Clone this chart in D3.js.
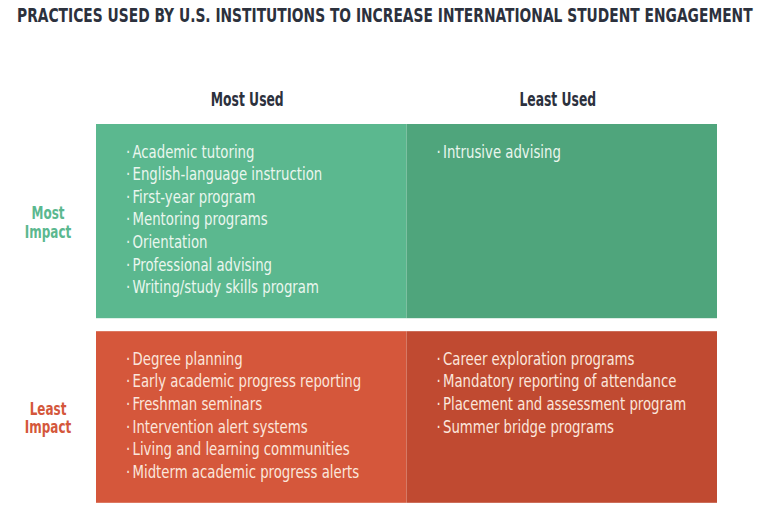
<!DOCTYPE html>
<head>
    <script src="https://d3js.org/d3.v7.min.js"></script>
    <style>
        body { margin: 0; background: #fff; }
        text { font-family: "Liberation Sans Narrow", "DejaVu Sans Condensed", "Roboto", sans-serif; }
    </style>
</head>
<body>
    <script id="chart">
        // data
        const title = "PRACTICES USED BY U.S. INSTITUTIONS TO INCREASE INTERNATIONAL STUDENT ENGAGEMENT";
        const columns = ["Most Used", "Least Used"];
        const rows = ["Most Impact", "Least Impact"];
        const mostImpactMostUsed = ["Academic tutoring", "English-language instruction", "First-year program",
            "Mentoring programs", "Orientation", "Professional advising", "Writing/study skills program"];
        const mostImpactLeastUsed = ["Intrusive advising"];
        const leastImpactMostUsed = ["Degree planning", "Early academic progress reporting", "Freshman seminars",
            "Intervention alert systems", "Living and learning communities", "Midterm academic progress alerts"];
        const leastImpactLeastUsed = ["Career exploration programs", "Mandatory reporting of attendance",
            "Placement and assessment program", "Summer bridge programs"];

        const cells = [
            { row: "Most Impact", col: "Most Used", items: mostImpactMostUsed },
            { row: "Most Impact", col: "Least Used", items: mostImpactLeastUsed },
            { row: "Least Impact", col: "Most Used", items: leastImpactMostUsed },
            { row: "Least Impact", col: "Least Used", items: leastImpactLeastUsed }
        ];

        // colours per cell
        const fill = {
            "Most Impact|Most Used": "#5bb88f", "Most Impact|Least Used": "#4fa57c",
            "Least Impact|Most Used": "#d5573b", "Least Impact|Least Used": "#c04a31"
        };
        const rowColor = { "Most Impact": "#5bb88f", "Least Impact": "#d4573b" };
        const rowText = { "Most Impact": "#eaf6ee", "Least Impact": "#fbe6dc" };

        const svg = d3.select("body").append("svg")
            .attr("width", 769).attr("height", 520);

        const lineH = 22.6;
        const gap = 13;
        const gridTop = 124;

        // row heights follow the longest list in each row
        const rowH = rows.map(r => d3.max(cells.filter(c => c.row === r), c => c.items.length) * lineH + 36);
        const rowY = {};
        rows.reduce((y, r, i) => { rowY[r] = y; return y + rowH[i] + gap; }, gridTop);

        const x = d3.scaleBand().domain(columns).range([96, 717]);

        // squeeze a text horizontally so that it takes a target width
        function fit(sel, target) {
            const w = sel.node().getComputedTextLength();
            return target / w;
        }

        // title
        const t = svg.append("text")
            .attr("font-size", 19.5).attr("font-weight", "bold").attr("fill", "#2c313d")
            .text(title);
        const kt = fit(t, 736);
        t.attr("transform", `translate(17,22) scale(${kt},1)`);

        // column headers
        const hk = (() => {
            const tmp = svg.append("text").attr("font-size", 19).attr("font-weight", "bold").text("Most Used");
            const k = fit(tmp, 73);
            tmp.remove();
            return k;
        })();
        svg.selectAll(".col-head").data(columns).join("text")
            .attr("class", "col-head")
            .attr("font-size", 19).attr("font-weight", "bold").attr("fill", "#2c313d")
            .attr("text-anchor", "middle")
            .attr("transform", d => `translate(${x(d) + x.bandwidth() / 2 - 4},105.5) scale(${hk},1)`)
            .text(d => d);

        // cell backgrounds
        svg.selectAll(".cell").data(cells).join("rect")
            .attr("class", "cell")
            .attr("x", d => x(d.col))
            .attr("y", d => rowY[d.row])
            .attr("width", x.bandwidth())
            .attr("height", d => rowH[rows.indexOf(d.row)])
            .attr("fill", d => fill[d.row + "|" + d.col]);

        // item lists
        const ik = (() => {
            const tmp = svg.append("text").attr("font-size", 17.5).text("Academic tutoring");
            const k = fit(tmp, 122);
            tmp.remove();
            return k;
        })();
        const lists = svg.selectAll(".list").data(cells).join("g")
            .attr("class", "list")
            .attr("transform", d => `translate(${x(d.col) + 30},${rowY[d.row] + 33.5}) scale(${ik},1)`);
        lists.each(function (d) {
            const g = d3.select(this);
            const items = g.selectAll("g").data(d.items).join("g")
                .attr("transform", (e, i) => `translate(0,${i * lineH})`);
            items.append("text")
                .attr("font-size", 17.5).attr("fill", rowText[d.row])
                .text("·");
            items.append("text")
                .attr("x", 6.5 / ik)
                .attr("font-size", 17.5).attr("fill", rowText[d.row])
                .text(e => e);
        });

        // row labels
        const rk = (() => {
            const tmp = svg.append("text").attr("font-size", 17.5).attr("font-weight", "bold").text("Impact");
            const k = fit(tmp, 46.5);
            tmp.remove();
            return k;
        })();
        rows.forEach((r, i) => {
            const cy = rowY[r] + rowH[i] / 2;
            const words = r.split(" ");
            svg.append("g")
                .attr("transform", `translate(48,${cy}) scale(${rk},1)`)
                .selectAll("text").data(words).join("text")
                .attr("text-anchor", "middle")
                .attr("font-size", 17.5).attr("font-weight", "bold")
                .attr("fill", rowColor[r])
                .attr("y", (w, j) => j * 18.5 - 2)
                .text(w => w);
        });
    </script>
</body>
